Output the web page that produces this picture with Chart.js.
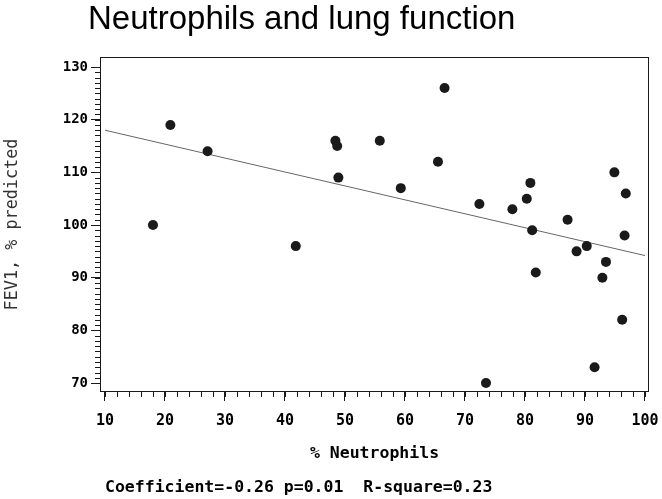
<!DOCTYPE html>
<html>
<head>
<meta charset="utf-8">
<title>Neutrophils and lung function</title>
<script src="https://cdn.jsdelivr.net/npm/chart.js@4.4.1/dist/chart.umd.min.js"></script>
<style>
  html, body { margin: 0; padding: 0; background: #fff; }
  #wrap { width: 662px; height: 499px; }
</style>
</head>
<body>
<div id="wrap"><canvas id="chart" width="662" height="499"></canvas></div>
<script>
// values
const neutrophils = [18.0, 20.9, 27.1, 41.8, 48.4, 48.7, 48.9, 55.8, 59.3, 65.5, 66.6, 72.4, 73.5, 77.9,
                     80.3, 80.9, 81.2, 81.8, 87.1, 88.6, 90.3, 91.6, 92.9, 93.5, 94.9, 96.2, 96.6, 96.8];
const fev1 = [100, 119, 114, 96, 116, 115, 109, 116, 107, 112, 126, 104, 70, 103,
              105, 108, 99, 91, 101, 95, 96, 73, 90, 93, 110, 82, 98, 106];
const fitX = [10, 100];
const fitY = [118.0, 94.2];
const xTicks = [10, 20, 30, 40, 50, 60, 70, 80, 90, 100];
const yTicks = [70, 80, 90, 100, 110, 120, 130];

const titleText = "Neutrophils and lung function";
const xTitle = "% Neutrophils";
const yTitle = "FEV1, % predicted";
const footerText = "Coefficient=-0.26 p=0.01  R-square=0.23";

const mono = "'DejaVu Sans Mono', 'Liberation Mono', monospace";
const ink = "#1a1a1a";

// box round the plot, minor ticks, title and footer
const framePlugin = {
  id: "frame",
  afterDraw(chart) {
    const { ctx, chartArea: a, scales: { x, y } } = chart;
    ctx.save();
    ctx.strokeStyle = ink;
    ctx.lineWidth = 1;
    ctx.strokeRect(a.left + 0.5, a.top + 0.5, a.right - a.left - 1, a.bottom - a.top - 1);

    ctx.beginPath();
    for (let v = xTicks[0]; v <= xTicks[xTicks.length - 1]; v += 2) {
      const px = Math.round(x.getPixelForValue(v)) + 0.5;
      ctx.moveTo(px, a.bottom);
      ctx.lineTo(px, a.bottom + 5);
    }
    for (let v = yTicks[0]; v <= yTicks[yTicks.length - 1]; v += 1) {
      const py = Math.round(y.getPixelForValue(v)) + 0.5;
      ctx.moveTo(a.left, py);
      ctx.lineTo(a.left - 5, py);
    }
    ctx.stroke();

    ctx.fillStyle = "#000";
    ctx.textBaseline = "alphabetic";
    ctx.textAlign = "left";
    ctx.font = "33px 'Liberation Sans', Arial, sans-serif";
    ctx.fillText(titleText, 88, 29);
    ctx.font = "bold 16.5px " + mono;
    ctx.fillText(footerText, 105, 492);
    ctx.restore();
  }
};

const points = neutrophils.map((v, i) => ({ x: v, y: fev1[i] }));
const fitLine = fitX.map((v, i) => ({ x: v, y: fitY[i] }));

new Chart(document.getElementById("chart"), {
  type: "scatter",
  data: {
    datasets: [
      {
        label: "Patients",
        data: points,
        backgroundColor: ink,
        borderWidth: 0,
        pointRadius: 5,
      },
      {
        type: "line",
        label: "Fit",
        data: fitLine,
        borderColor: "#666",
        borderWidth: 1,
        pointRadius: 0,
        fill: false,
      },
    ],
  },
  options: {
    responsive: false,
    animation: false,
    devicePixelRatio: 1,
    layout: { padding: { top: 57, right: 0, left: 0, bottom: 0 } },
    plugins: {
      legend: { display: false },
      tooltip: { enabled: false },
    },
    scales: {
      x: {
        type: "linear",
        min: 9.17,
        max: 100.67,
        afterBuildTicks: (scale) => { scale.ticks = xTicks.map((v) => ({ value: v })); },
        afterFit: (scale) => {
          scale.height = 107;
          scale.paddingLeft = 0;
          scale.paddingRight = 13;
        },
        grid: { drawOnChartArea: false, drawTicks: true, tickLength: 9, tickColor: ink },
        border: { display: false },
        ticks: { color: "#000", padding: 11, maxRotation: 0, font: { family: mono, size: 15, weight: "bold" } },
        title: {
          display: true,
          text: xTitle,
          color: "#000",
          font: { family: mono, size: 16.5, weight: "bold" },
          padding: { top: 0, bottom: 35 },
        },
      },
      y: {
        type: "linear",
        min: 68.3,
        max: 131.9,
        afterBuildTicks: (scale) => { scale.ticks = yTicks.map((v) => ({ value: v })); },
        afterFit: (scale) => { scale.width = 100; },
        grid: { drawOnChartArea: false, drawTicks: true, tickLength: 9, tickColor: ink },
        border: { display: false },
        ticks: { color: "#000", padding: 3, font: { family: mono, size: 14, weight: "bold" } },
        title: {
          display: true,
          text: yTitle,
          color: "#333",
          font: { family: mono, size: 16.8, weight: "normal" },
          padding: { top: 3, bottom: 0 },
        },
      },
    },
  },
  plugins: [framePlugin],
});
</script>
</body>
</html>
